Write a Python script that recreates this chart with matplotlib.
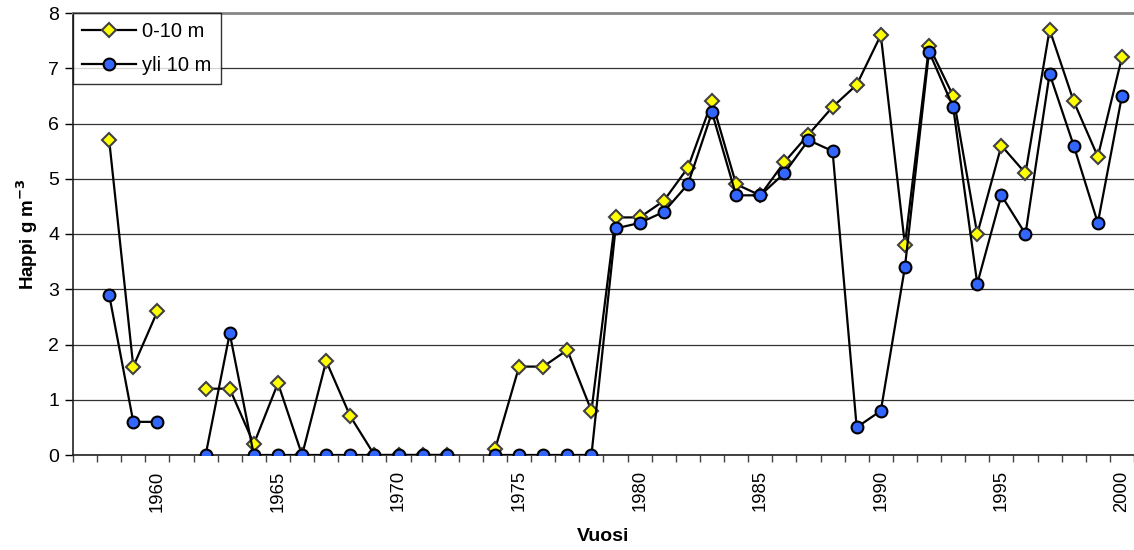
import numpy as np
import matplotlib
matplotlib.use("Agg")
import matplotlib.pyplot as plt
from matplotlib.ticker import MultipleLocator, FixedLocator

plt.rcParams['font.family'] = ['Liberation Sans', 'DejaVu Sans']

nan = np.nan
vuodet = list(range(1958, 2001))
pinta = [5.7, 1.6, 2.6, nan, 1.2, 1.2, 0.2, 1.3, 0.0, 1.7,
         0.7, 0.0, 0.0, 0.0, 0.0, nan, 0.1, 1.6, 1.6, 1.9,
         0.8, 4.3, 4.3, 4.6, 5.2, 6.4, 4.9, 4.7, 5.3, 5.8,
         6.3, 6.7, 7.6, 3.8, 7.4, 6.5, 4.0, 5.6, 5.1, 7.7,
         6.4, 5.4, 7.2]
syva = [2.9, 0.6, 0.6, nan, 0.0, 2.2, 0.0, 0.0, 0.0, 0.0,
        0.0, 0.0, 0.0, 0.0, 0.0, nan, 0.0, 0.0, 0.0, 0.0,
        0.0, 4.1, 4.2, 4.4, 4.9, 6.2, 4.7, 4.7, 5.1, 5.7,
        5.5, 0.5, 0.8, 3.4, 7.3, 6.3, 3.1, 4.7, 4.0, 6.9,
        5.6, 4.2, 6.5]
nimet = ['0-10 m', 'yli 10 m']
tikit = [1960, 1965, 1970, 1975, 1980, 1985, 1990, 1995, 2000]

fig = plt.figure(figsize=(11.34, 5.5), dpi=100)
ax = fig.add_axes([73 / 1134, 1 - 455 / 550, 1 - 73 / 1134, 442 / 550])

ax.plot(vuodet, pinta, color='black', lw=1.6, marker='D', ms=7.5,
        mfc='#FFFF00', mec='#404040', mew=1.5, label=nimet[0], zorder=3)
ax.plot(vuodet, syva, color='black', lw=1.6, marker='o', ms=8.5,
        mfc='#3366FF', mec='black', mew=1.5, label=nimet[1], zorder=4)

ax.set_xlim(1956.5, 2000.5)
ax.set_ylim(0, 8)
ax.yaxis.set_major_locator(MultipleLocator(1))
ax.grid(axis='y', color='#333333', lw=0.9)
ax.set_axisbelow(True)

ax.xaxis.set_major_locator(FixedLocator(tikit))
ax.xaxis.set_minor_locator(FixedLocator(np.arange(1956.5, 2001, 1)))
ax.tick_params(axis='x', which='major', length=0, labelsize=13.3,
               labelrotation=90, pad=11)
ax.tick_params(axis='x', which='minor', length=5, width=1, color='#444444')
ax.tick_params(axis='y', length=6, width=1, labelsize=14, pad=4)

for s in ['left', 'bottom']:
    ax.spines[s].set_color('#222222')
    ax.spines[s].set_linewidth(1.2)
ax.spines['right'].set_visible(False)
ax.spines['top'].set_color('#888888')
ax.spines['top'].set_linewidth(2)

ax.set_xlabel('Vuosi', fontweight='bold', fontsize=14, labelpad=12)
ax.set_ylabel('Happi g m$^{\\mathbf{-3}}$', fontweight='bold', fontsize=13.5,
              labelpad=6)

leg = ax.legend(loc='upper left', bbox_to_anchor=(0, 1), fontsize=14.5,
                frameon=True, fancybox=False, edgecolor='black',
                borderaxespad=0, handlelength=2.7, handletextpad=0.3,
                borderpad=0.45, labelspacing=0.75)
leg.get_frame().set_linewidth(1)

fig.savefig('out.png', dpi=100)
